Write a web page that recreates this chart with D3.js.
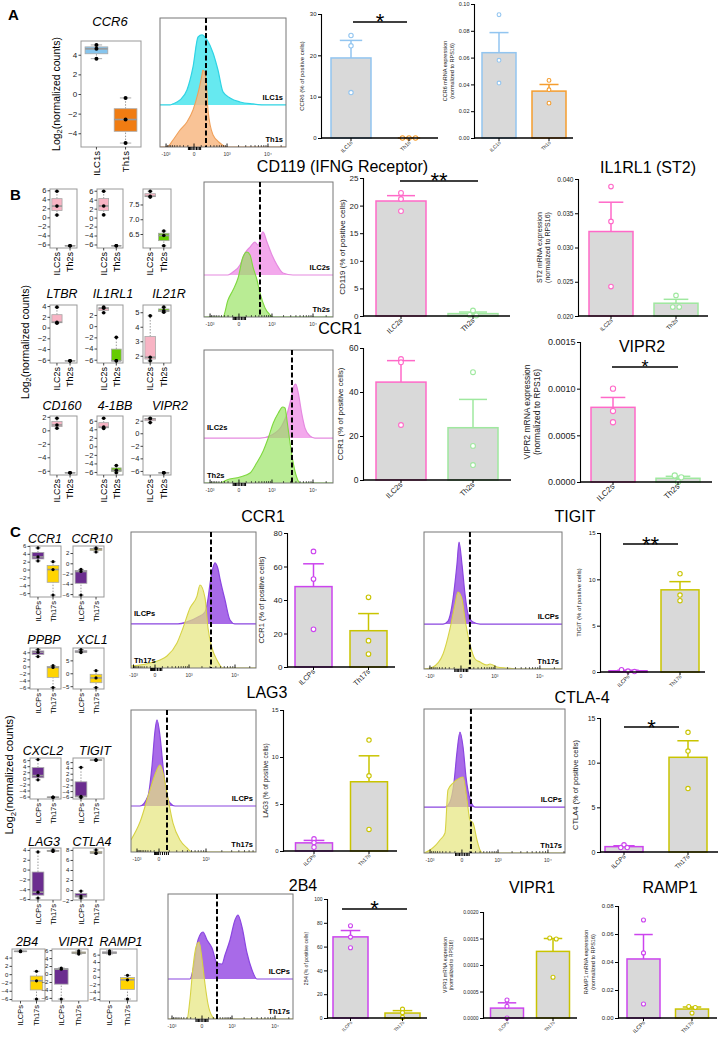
<!DOCTYPE html>
<html><head><meta charset="utf-8">
<script src="https://cdn.jsdelivr.net/npm/d3@7"></script>
<style>body{margin:0;background:#fff} svg{display:block}</style>
</head><body>
<svg id="fig" width="720" height="1040"></svg>
<script>
// ===================== DATA =====================
const groupsA = ["ILC1s", "Th1s"];
const groupsB = ["ILC2s", "Th2s"];
const groupsC = ["ILCPs", "Th17s"];

// RNA-seq, log2(normalized counts), 3 donors: [ILC group, Th group]
const rnaCCR6   = [[5.0, 4.6, 3.6], [-0.4, -2.6, -5.0]];
const rnaBr1c1  = [[5.8, 2.5, 0.5], [-6.3, -6.3, -6.3]];
const rnaBr1c2  = [[5.9, 2.6, 0.6], [-6.3, -6.3, -6.3]];
const rnaBr1c3  = [[7.95, 7.78, 7.75], [6.6, 6.45, 6.1]];
const rnaLTBR   = [[3.8, 1.0, 0.8], [-6.2, -6.2, -6.2]];
const rnaIL1RL1 = [[3.4, 3.2, 2.4], [-2.0, -6.2, -6.2]];
const rnaIL21R  = [[4.75, 1.9, 1.65], [5.35, 5.1, 5.0]];
const rnaCD160  = [[1.8, 0.8, 0.3], [-6.3, -6.3, -6.3]];
const rna41BB   = [[6.6, 4.5, 4.2], [-4.5, -5.6, -6.2]];
const rnaVIPR2  = [[2.4, 2.3, 1.7], [-6.3, -6.3, -6.3]];
const rnaCCR1   = [[5.5, 3.2, 2.2], [2.0, 0.0, -6.5]];
const rnaCCR10  = [[-1.2, -1.6, -6.2], [3.0, 2.8, 2.2]];
const rnaPPBP   = [[4.8, 4.0, 2.8], [0.2, -0.3, -6.0]];
const rnaXCL1   = [[9.2, 8.3, 8.0], [1.0, -1.8, -5.5]];
const rnaCXCL2  = [[6.2, 0.9, -0.5], [-6.2, -6.2, -6.3]];
const rnaTIGIT  = [[4.2, -5.8, -6.2], [6.9, 6.7, 6.6]];
const rnaLAG3   = [[3.6, -4.6, -5.8], [4.0, 3.8, 3.7]];
const rnaCTLA4  = [[-0.2, -1.2, -1.6], [8.0, 7.4, 7.3]];
const rna2B4    = [[5.6, 5.5, 5.4], [0.7, -1.6, -6.0]];
const rnaVIPR1  = [[1.5, 1.2, -6.3], [5.8, 5.3, 5.0]];
const rnaRAMP1  = [[7.0, 6.5, 6.2], [0.4, -0.8, -6.0]];

// boxplot tick labels
const tA   = [-4, -2, 0, 2, 4];
const t6   = [-6, -4, -2, 0, 2, 4, 6];
const t4   = [-6, -4, -2, 0, 2, 4];
const t2   = [-6, -4, -2, 0, 2];
const tB3  = [6.5, 7.0, 7.5];
const t21R = [2, 3, 4, 5];
const tXCL = [-5, 0, 5];
const tCTL = [-2, 0, 2, 4, 6, 8];

// Flow / qPCR bar values (3 donors): [ILC group, Th group]
const pctCCR6   = [[24.8, 22.3, 11.0], [0, 0, 0]];
const mrnaCCR6  = [[0.092, 0.058, 0.041], [0.043, 0.036, 0.026]];
const pctCD119  = [[22.3, 21.2, 19.0], [1.0, 0.2, 0.1]];
const pctCCR1B  = [[55, 53.5, 25], [49, 15.5, 6.8]];
const mrnaST2   = [[0.0389, 0.0338, 0.0243], [0.0230, 0.0213, 0.0213]];
const mrnaVIPR2 = [[0.00100, 0.00076, 0.00064], [0.00007, 0.00005, 0.0]];
const pctCCR1C  = [[69, 52.5, 22.5], [41.6, 15.7, 7.7]];
const pctTIGIT  = [[0.25, 0.1, 0.05], [10.6, 8.3, 7.7]];
const pctLAG3   = [[1.3, 0.9, 0.4], [11.8, 8.0, 2.3]];
const pctCTLA4  = [[0.8, 0.5, 0.5], [13.4, 11.3, 7.1]];
const pct2B4    = [[77.5, 68, 59], [7.5, 4.5, 0.5]];
const mrnaVIPR1 = [[0.00034, 0.00022, 0.0], [0.00151, 0.00149, 0.00077]];
const mrnaRAMP1 = [[0.070, 0.0465, 0.010], [0.0082, 0.0075, 0.0035]];

// bar axis ticks
const tk30   = [0, 10, 20, 30];
const tkA2   = [0, 0.02, 0.04, 0.06, 0.08, 0.10];
const tk25   = [0, 5, 10, 15, 20, 25];
const tk60   = [0, 20, 40, 60];
const tkST2  = [0.020, 0.025, 0.030, 0.035, 0.040];
const tkVIP2 = [0, 0.0005, 0.0010, 0.0015];
const tk80   = [0, 20, 40, 60, 80];
const tk15   = [0, 5, 10, 15];
const tk100  = [0, 20, 40, 60, 80, 100];
const tkVIP1 = [0, 0.0005, 0.0010, 0.0015, 0.0020];
const tkRAMP = [0, 0.02, 0.04, 0.06, 0.08];

// significance levels (value units)
const sigCCR6 = 28.06, sigCD119 = 24.46, sigVIPR2 = 0.001232, sigTIGIT = 13.81, sigCTLA4 = 13.99, sig2B4 = 91.6;

// Flow histograms: [display channel 0-100, relative count %]
const histA_ILC  = [[0,0],[7.9,0],[10.3,0.8],[15.9,3.9],[21.4,11.6],[26.2,29.5],[30.2,52.7],[33.3,54.3],[37.3,50.4],[42.1,40.3],[46,27.1],[50,10.1],[55.6,5.4],[63.5,2.3],[73.8,0.8],[84.9,0],[100,0]];
const histA_Th   = [[0,0],[5.6,0],[10.3,5.4],[15.9,13.2],[21.4,19.4],[26.2,28.7],[30.2,41.9],[33.3,55.8],[34.1,59.7],[36.5,53.5],[38.1,28.7],[42.1,9.3],[47.6,3.1],[53.2,0],[100,0]];
const histB1_ILC = [[0,0],[18.6,0],[22.5,2.2],[27.9,7.4],[31.8,16.3],[35.7,20.7],[39.5,24.4],[41.9,22.2],[45,31.1],[45.7,31.9],[48.8,24.4],[52.7,14.8],[56.6,7.4],[61.2,1.5],[69,0],[100,0]];
const histB1_Th  = [[0,0],[14.7,0],[18.6,12.6],[22.5,20],[26.4,28.9],[30.2,44.4],[33.3,48.1],[35.7,45.9],[38,37],[41.1,27.4],[43.4,17.8],[47.3,6.7],[51.2,1.5],[53.5,0],[100,0]];
const histB2_ILC = [[0,0],[43.4,0],[52.5,2.3],[60.2,9],[64.6,18.8],[67.2,28.6],[69.2,37.6],[71.1,40.6],[73.1,33.8],[75.7,18.8],[78.3,7.5],[82.2,1.5],[86,0],[100,0]];
const histB2_Th  = [[0,0],[12.4,0],[17.6,2.3],[27.9,4.5],[35.7,7.5],[40.8,15],[45.9,24.1],[49.8,33.8],[53.7,45.1],[57.6,52.6],[61,57.1],[62.8,56.4],[64.6,45.1],[66.7,30.1],[69.2,15],[71.8,4.5],[74.4,0],[100,0]];
const histC1_ILC = [[0,0],[37.6,0],[44.8,1.5],[53.6,5.1],[59.2,8.8],[61.6,18.4],[63.2,29.4],[64.8,38.2],[67.2,44.9],[69.6,40.4],[71.2,33.1],[75.2,17.6],[79.2,2.9],[83.2,0],[100,0]];
const histC1_Th  = [[0,1.5],[7.2,2.2],[15.2,3.7],[23.2,5.9],[28.8,8.8],[36.8,18.4],[41.6,29.4],[47.2,44.1],[52.8,52.9],[55.2,61],[59.2,51.5],[61.6,29.4],[64.8,14.7],[68.8,5.9],[73.6,0],[100,0]];
const histC2_ILC = [[0,0],[13.8,0],[17.4,2.2],[21,18.2],[23.9,43.8],[25.4,59.9],[27.5,43.8],[29.7,21.9],[31.9,7.3],[35.5,1.5],[40.6,0],[100,0]];
const histC2_Th  = [[0,0],[6.5,1.5],[13.8,10.9],[18.8,29.2],[22.5,47.4],[24.6,56.2],[27.5,51.1],[29.7,36.5],[33.3,18.2],[37,7.3],[40.6,5.1],[45.7,2.9],[47.8,3.6],[52.9,1.5],[60.1,0.7],[67.4,0],[100,0]];
const histC3_ILC = [[0,0],[7.2,0],[13.6,7],[16.8,28.2],[19.2,52.8],[20.8,60.6],[23.2,49.3],[25.6,28.2],[28,10.6],[31.2,2.1],[35.2,0],[100,0]];
const histC3_Th  = [[0,8.5],[7.2,21.1],[15.2,43.7],[20,56.3],[23.2,61.3],[26.4,52.8],[28.8,41.5],[33.6,20.4],[39.2,8.5],[44.8,2.8],[48.8,0],[100,0]];
const histC4_ILC = [[0,0],[14.9,0],[18.4,3.5],[21.3,17.4],[23.4,38.2],[25.5,52.1],[27.7,41.7],[29.8,20.8],[32.6,5.6],[36.2,0],[100,0]];
const histC4_Th  = [[0,0],[4.3,2.1],[8.5,5.6],[11.3,9],[14.9,13.9],[17,43.8],[20.6,48.6],[25.5,52.1],[27.7,52.8],[30.5,36.8],[32.6,22.9],[34.8,20.8],[37.6,9],[39.7,2.1],[41.8,0],[100,0]];
const histC5_ILC = [[0,0],[17.6,0],[20,7.2],[24,31.2],[28,37.6],[31.2,31.2],[35.2,24.8],[39.2,12.8],[43.2,12],[45.6,19.2],[49.6,31.2],[53.6,47.2],[56,51.2],[59.2,41.6],[63.2,20.8],[67.2,7.2],[71.2,0],[100,0]];
const histC5_Th  = [[0,0],[15.2,0],[17.6,16],[20,41.6],[22.4,57.6],[24.8,61.6],[27.2,48],[29.6,28],[32,12],[35.2,2.4],[38.4,0],[100,0]];

// flow axis tick values & labels
const flowMajor = [-1000, 0, 1000, 10000];
const flowMajorText = ["-10\u00B3", "0", "10\u00B3", "10\u2074"];
const flowMinor = [-900,-800,-700,-600,-500,-400,-300,-200,-100,100,200,300,400,500,600,700,800,900,
  2000,3000,4000,5000,6000,7000,8000,9000,20000,30000,40000,50000,60000,70000,80000,90000,100000,200000];
const flowNearZero = [-90,-70,-50,-30,-10,10,30,50,70,90];

// ===================== DRAWING =====================
const svg = d3.select("#fig");
const FONT = "'Liberation Sans', Arial, Helvetica, sans-serif";
let clipN = 0;

function txt(g, x, y, s, size, o = {}) {
  const t = g.append("text").attr("x", x).attr("y", y).attr("font-size", size)
    .attr("font-family", FONT).attr("fill", o.fill || "#000")
    .attr("text-anchor", o.anchor || "middle").text(s);
  if (o.italic) t.attr("font-style", "italic");
  if (o.bold) t.attr("font-weight", "bold");
  if (o.rotate != null) t.attr("transform", `rotate(${o.rotate},${x},${y})`);
  return t;
}

function fivenum(v) {
  const s = v.slice().sort(d3.ascending), n = s.length;
  const n4 = Math.floor((n + 3) / 2) / 2;
  const d = [1, n4, (n + 1) / 2, n + 1 - n4, n];
  return d.map(k => 0.5 * (s[Math.floor(k) - 1] + s[Math.ceil(k) - 1]));
}

function boxplot(o) {
  const g = svg.append("g");
  const [mn, mx] = d3.extent(o.data.flat());
  const pad = (mx - mn) * 0.04;
  const y = d3.scaleLinear().domain([mn - pad, mx + pad]).range([o.y1, o.y0]);
  const x = d3.scaleBand().domain(o.groups).range([o.x0, o.x1]).paddingInner(0.22).paddingOuter(0.14);
  g.append("rect").attr("x", o.x0).attr("y", o.y0).attr("width", o.x1 - o.x0).attr("height", o.y1 - o.y0)
    .attr("fill", "#fff").attr("stroke", "#999").attr("stroke-width", 1);
  const axg = g.append("g").attr("transform", `translate(${o.x0},0)`)
    .call(d3.axisLeft(y).tickValues(o.ticks).tickSize(2.5).tickPadding(1.2).tickFormat(o.fmt || d3.format("d")));
  axg.select(".domain").remove();
  axg.selectAll("line").attr("stroke", "#444");
  axg.selectAll("text").attr("font-size", o.tf).attr("font-family", FONT).attr("fill", "#222");
  o.groups.forEach((grp, i) => {
    const bw = x.bandwidth(), cx = x(grp) + bw / 2;
    const f = fivenum(o.data[i]);
    g.append("line").attr("x1", cx).attr("x2", cx).attr("y1", o.y1).attr("y2", o.y1 + 2.5).attr("stroke", "#444");
    g.append("text").attr("transform", `translate(${cx + o.lf * 0.36},${o.y1 + 4}) rotate(-90)`)
      .attr("text-anchor", "end").attr("font-size", o.lf).attr("font-family", FONT).text(grp);
    [[f[0], f[1]], [f[3], f[4]]].forEach(([a, b]) => {
      g.append("line").attr("x1", cx).attr("x2", cx).attr("y1", y(a)).attr("y2", y(b))
        .attr("stroke", "#999").attr("stroke-dasharray", "1.5,1.5");
    });
    [f[0], f[4]].forEach(v => g.append("line").attr("x1", cx - bw * 0.25).attr("x2", cx + bw * 0.25)
      .attr("y1", y(v)).attr("y2", y(v)).attr("stroke", "#aaa"));
    g.append("rect").attr("x", x(grp)).attr("width", bw).attr("y", y(f[3]))
      .attr("height", Math.max(0.01, y(f[1]) - y(f[3]))).attr("fill", o.colors[i]).attr("stroke", "#a8a8a8").attr("stroke-width", 0.8);
    g.append("line").attr("x1", x(grp)).attr("x2", x(grp) + bw).attr("y1", y(f[2])).attr("y2", y(f[2]))
      .attr("stroke", "#999").attr("stroke-width", 1.6);
    o.data[i].forEach(v => g.append("circle").attr("cx", cx).attr("cy", y(v)).attr("r", o.pr || 1.8).attr("fill", "#000"));
  });
  if (o.title) txt(g, o.tx, o.ty, o.title, o.ts, { italic: true });
}

function flowHist(o) {
  const g = svg.append("g");
  const xs = d3.scaleLinear().domain([0, 100]).range([o.x0, o.x1]);
  const ys = d3.scaleLinear().domain([0, 100]).range([o.y1, o.y0]);
  const id = "clip" + (clipN++);
  g.append("clipPath").attr("id", id).append("rect").attr("x", o.x0).attr("y", o.y0)
    .attr("width", o.x1 - o.x0).attr("height", o.y1 - o.y0);
  const inner = g.append("g").attr("clip-path", `url(#${id})`);
  const curve = d3.curveMonotoneX;
  const base = ys(o.offset);
  const areaT = d3.area().x(d => xs(d[0])).y0(base).y1(d => ys(o.offset + d[1])).curve(curve);
  const lineT = d3.line().x(d => xs(d[0])).y(d => ys(o.offset + d[1])).curve(curve);
  const areaB = d3.area().x(d => xs(d[0])).y0(o.y1).y1(d => ys(d[1])).curve(curve);
  const lineB = d3.line().x(d => xs(d[0])).y(d => ys(d[1])).curve(curve);
  inner.append("path").datum(o.top).attr("d", areaT).attr("fill", o.c[0]);
  inner.append("path").datum(o.top).attr("d", lineT).attr("fill", "none").attr("stroke", o.c[1]).attr("stroke-width", 1.2);
  inner.append("path").datum(o.bottom).attr("d", areaB).attr("fill", o.c[2]).attr("fill-opacity", o.op);
  inner.append("path").datum(o.bottom).attr("d", lineB).attr("fill", "none").attr("stroke", o.c[3]).attr("stroke-width", 1.1);
  g.append("rect").attr("x", o.x0).attr("y", o.y0).attr("width", o.x1 - o.x0).attr("height", o.y1 - o.y0)
    .attr("fill", "none").attr("stroke", "#777").attr("stroke-width", 1);
  // axis (biexponential-like display)
  const fx = d3.scaleSymlog().constant(220).domain(flowMajor).range(o.tickCh.map(c => xs(c)));
  const inside = v => fx(v) >= o.x0 + 0.5 && fx(v) <= o.x1 - 0.5;
  flowMinor.filter(inside).forEach(v => g.append("line").attr("x1", fx(v)).attr("x2", fx(v))
    .attr("y1", o.y1).attr("y2", o.y1 - 2).attr("stroke", "#222").attr("stroke-width", 0.7));
  flowNearZero.filter(inside).forEach(v => g.append("line").attr("x1", fx(v)).attr("x2", fx(v))
    .attr("y1", o.y1).attr("y2", o.y1 + 3).attr("stroke", "#000").attr("stroke-width", 1));
  flowMajor.forEach((v, i) => {
    if (!inside(v)) return;
    g.append("line").attr("x1", fx(v)).attr("x2", fx(v)).attr("y1", o.y1).attr("y2", o.y1 - 3.5)
      .attr("stroke", "#000").attr("stroke-width", 0.9);
    txt(g, fx(v), o.y1 + 9, flowMajorText[i], 5, { fill: "#333" });
  });
  // dashed threshold
  g.append("line").attr("x1", xs(o.cut)).attr("x2", xs(o.cut)).attr("y1", o.y0).attr("y2", o.y1)
    .attr("stroke", "#000").attr("stroke-width", 2).attr("stroke-dasharray", "5,2.5");
  const lx = o.side === "left" ? o.x0 + 3 : o.x1 - 3;
  const an = o.side === "left" ? "start" : "end";
  txt(g, lx, base - (o.side === "left" ? 8 : 5), o.labels[0], 7.5, { bold: true, anchor: an });
  txt(g, lx, o.y1 - 5, o.labels[1], 7.5, { bold: true, anchor: an });
}

function barChart(o) {
  const g = svg.append("g");
  const y = d3.scaleLinear().domain(o.dom).range([o.y0, o.yTop]);
  const x = d3.scalePoint().domain(o.groups).range(o.cx);
  o.data.forEach((pts, i) => {
    const grp = o.groups[i], cx = x(grp), col = o.colors[i];
    const m = d3.mean(pts), se = (d3.deviation(pts) || 0) / Math.sqrt(pts.length);
    g.append("rect").attr("x", cx - o.bw / 2).attr("y", y(m)).attr("width", o.bw)
      .attr("height", Math.max(0, y(o.dom[0]) - y(m))).attr("fill", "#d9d9d9").attr("stroke", col).attr("stroke-width", 1.5);
    g.append("line").attr("x1", cx).attr("x2", cx).attr("y1", y(m)).attr("y2", y(m + se)).attr("stroke", col).attr("stroke-width", 1.5);
    g.append("line").attr("x1", cx - o.bw * 0.28).attr("x2", cx + o.bw * 0.28).attr("y1", y(m + se)).attr("y2", y(m + se))
      .attr("stroke", col).attr("stroke-width", 1.5);
    // points with simple dodge of overlapping values
    const py = pts.map(v => y(v));
    const ord = d3.range(pts.length).sort((a, b) => py[a] - py[b]);
    const clusters = []; let cur = [ord[0]];
    for (let k = 1; k < ord.length; k++) {
      if (py[ord[k]] - py[cur[cur.length - 1]] < 2.6) cur.push(ord[k]); else { clusters.push(cur); cur = [ord[k]]; }
    }
    clusters.push(cur);
    const off = new Array(pts.length).fill(0);
    clusters.forEach(cl => cl.forEach((idx, j) => off[idx] = (j - (cl.length - 1) / 2) * (o.dodge || 6.5)));
    pts.forEach((v, k) => g.append("circle").attr("cx", cx + off[k]).attr("cy", py[k]).attr("r", o.pr || 2.2)
      .attr("fill", "#fff").attr("stroke", col).attr("stroke-width", 1.1));
    g.append("line").attr("x1", cx).attr("x2", cx).attr("y1", o.y0).attr("y2", o.y0 + 3).attr("stroke", "#000");
    g.append("text").attr("transform", `translate(${cx + 2},${o.y0 + 5}) rotate(-45)`).attr("text-anchor", "end")
      .attr("font-size", o.tf * 0.9).attr("font-family", FONT).attr("fill", "#222").text(grp);
  });
  const axg = g.append("g").attr("transform", `translate(${o.ax},0)`)
    .call(d3.axisLeft(y).tickValues(o.ticks).tickSize(3).tickPadding(1.5).tickFormat(o.fmt || d3.format("d")));
  axg.select(".domain").attr("stroke", "#000").attr("stroke-width", 1.1);
  axg.selectAll("line").attr("stroke", "#000");
  axg.selectAll("text").attr("font-size", o.tf).attr("font-family", FONT).attr("fill", "#222");
  g.append("line").attr("x1", o.ax).attr("x2", o.xEnd).attr("y1", o.y0).attr("y2", o.y0).attr("stroke", "#000").attr("stroke-width", 1.3);
  const ym = (o.yTop + o.y0) / 2;
  o.ylab.forEach((s, k) => txt(g, o.ax - o.labOff[k], ym, s, o.lf, { rotate: -90, fill: "#222" }));
  if (o.sig) {
    const sy = y(o.sig.v);
    g.append("line").attr("x1", o.sig.x[0]).attr("x2", o.sig.x[1]).attr("y1", sy).attr("y2", sy).attr("stroke", "#000").attr("stroke-width", 1.4);
    const fs = o.sig.fs || 22;
    txt(g, (o.sig.x[0] + o.sig.x[1]) / 2, sy + fs * 0.34, o.sig.text, fs);
  }
}

function log2Label(cx, cy, size) {
  const t = svg.append("text").attr("transform", `translate(${cx + size * 0.35},${cy}) rotate(-90)`)
    .attr("text-anchor", "middle").attr("font-size", size).attr("font-family", FONT);
  t.append("tspan").text("Log");
  t.append("tspan").attr("font-size", size * 0.7).attr("dy", size * 0.25).text("2");
  t.append("tspan").attr("dy", -size * 0.25).text("(normalized counts)");
}

// colours
const boxColA = ["#86c5ee", "#f07c12"], boxColB = ["#f8b4c4", "#66cc00"], boxColC = ["#6b2d8f", "#ffd400"];
const barColA = ["#92c5f0", "#f59d2e"], barColB = ["#ff69c8", "#9fe89f"], barColC = ["#cc44ee", "#c9c400"];
const histColA = ["#66e9f0", "#2fd3e4", "#f8b884", "#f0a05a"];
const histColB = ["#f3a8ec", "#e58ae0", "#93e25a", "#7ed83e"];
const histColC = ["#a86ae8", "#8a46e0", "#e6e57c", "#d6d244"];

// ---------- Panel letters ----------
txt(svg, 8, 20, "A", 15, { bold: true, anchor: "start" });
txt(svg, 10, 200, "B", 15, { bold: true, anchor: "start" });
txt(svg, 10, 537, "C", 15, { bold: true, anchor: "start" });

// ---------- Panel A ----------
log2Label(56, 94, 10.5);
boxplot({ x0: 81, y0: 41, x1: 141, y1: 147, data: rnaCCR6, groups: groupsA, colors: boxColA, ticks: tA, tf: 8, lf: 9.5, title: "CCR6", tx: 110, ty: 26, ts: 13, pr: 2 });
flowHist({ x0: 160, x1: 286, y0: 18, y1: 147, offset: 32.6, top: histA_ILC, bottom: histA_Th, cut: 36.5,
  tickCh: [4.8, 27, 53.2, 85.7], labels: groupsA, side: "right", c: histColA, op: 0.85 });
barChart({ ax: 321, xEnd: 438, yTop: 14, y0: 138, dom: [0, 30], ticks: tk30, cx: [351, 409], bw: 40, groups: groupsA,
  data: pctCCR6, colors: barColA, tf: 6, lf: 6, labOff: [17], ylab: ["CCR6 (% of positive cells)"],
  sig: { v: sigCCR6, x: [353, 407], text: "*" } });
barChart({ ax: 474, xEnd: 573, yTop: 4, y0: 138, dom: [0, 0.10], ticks: tkA2, fmt: d3.format(".2f"), cx: [499, 549], bw: 34,
  groups: groupsA, data: mrnaCCR6, colors: barColA, tf: 5.5, lf: 5.5, labOff: [27, 20],
  ylab: ["CCR6 mRNA expression", "(normalized to RPS16)"], pr: 1.9 });

// ---------- Panel B ----------
log2Label(25, 342, 10.5);
const bCols = [[50, 77], [97, 123], [143, 171]];
const bRows = [[189, 248], [305, 363], [416, 475]];
const bSpecs = [
  [rnaBr1c1, t6, null, null], [rnaBr1c2, t6, null, null], [rnaBr1c3, tB3, null, null, d3.format(".1f")],
  [rnaLTBR, t4, "LTBR", 62], [rnaIL1RL1, t2, "IL1RL1", 113], [rnaIL21R, t21R, "IL21R", 169],
  [rnaCD160, t2, "CD160", 62], [rna41BB, t6, "4-1BB", 115], [rnaVIPR2, t2, "VIPR2", 170]
];
const bTitleY = [0, 298, 410];
bSpecs.forEach((s, k) => {
  const r = Math.floor(k / 3), c = k % 3;
  boxplot({ x0: bCols[c][0], x1: bCols[c][1], y0: bRows[r][0], y1: bRows[r][1], data: s[0], groups: groupsB,
    colors: boxColB, ticks: s[1], fmt: s[4], tf: 7.5, lf: 9, title: s[2], tx: s[3], ty: bTitleY[r], ts: 12.5 });
});
txt(svg, 342.5, 172, "CD119 (IFNG Receptor)", 16);
txt(svg, 648, 173, "IL1RL1 (ST2)", 16);
txt(svg, 340, 334, "CCR1", 16);
txt(svg, 642, 352, "VIPR2", 16);
flowHist({ x0: 204, x1: 333, y0: 182, y1: 317, offset: 31.1, top: histB1_ILC, bottom: histB1_Th, cut: 43.4,
  tickCh: [4.7, 27.1, 52.7, 84.5], labels: groupsB, side: "right", c: histColB, op: 0.65 });
flowHist({ x0: 204, x1: 333, y0: 350, y1: 483, offset: 33.8, top: histB2_ILC, bottom: histB2_Th, cut: 68.2,
  tickCh: [4.7, 27.1, 52.7, 84.5], labels: groupsB, side: "left", c: histColB, op: 0.65 });
barChart({ ax: 363, xEnd: 510, yTop: 178, y0: 316, dom: [0, 25], ticks: tk25, cx: [401, 473], bw: 50, groups: groupsB,
  data: pctCD119, colors: barColB, tf: 8, lf: 8, labOff: [18], ylab: ["CD119 (% of positive cells)"],
  sig: { v: sigCD119, x: [400, 478], text: "**" }, pr: 2.4 });
barChart({ ax: 363, xEnd: 511, yTop: 348, y0: 480, dom: [0, 60], ticks: tk60, cx: [401, 473], bw: 50, groups: groupsB,
  data: pctCCR1B, colors: barColB, tf: 8.5, lf: 8, labOff: [20], ylab: ["CCR1 (% of positive cells)"], pr: 2.4 });
barChart({ ax: 578, xEnd: 708, yTop: 179, y0: 316, dom: [0.02, 0.04], ticks: tkST2, fmt: d3.format(".3f"), cx: [611, 676], bw: 44,
  groups: groupsB, data: mrnaST2, colors: barColB, tf: 6.5, lf: 7, labOff: [36, 28],
  ylab: ["ST2 mRNA expression", "(normalized to RPS16)"], pr: 2.3 });
barChart({ ax: 580, xEnd: 712, yTop: 342, y0: 482, dom: [0, 0.0015], ticks: tkVIP2, fmt: d3.format(".4f"), cx: [613, 678], bw: 44,
  groups: groupsB, data: mrnaVIPR2, colors: barColB, tf: 9, lf: 8.5, labOff: [50, 40],
  ylab: ["VIPR2 mRNA expression", "(normalized to RPS16)"], sig: { v: sigVIPR2, x: [612, 678], text: "*", fs: 18 }, pr: 2.6 });

// ---------- Panel C ----------
log2Label(9, 775, 11);
const cSpecs = [
  [rnaCCR1, t6, "CCR1", 45, 0, 0], [rnaCCR10, t2, "CCR10", 92, 0, 1],
  [rnaPPBP, t4, "PPBP", 44, 1, 0], [rnaXCL1, tXCL, "XCL1", 92, 1, 1],
  [rnaCXCL2, t6, "CXCL2", 43, 2, 0], [rnaTIGIT, t6, "TIGIT", 95, 2, 1],
  [rnaLAG3, t4, "LAG3", 44, 3, 0], [rnaCTLA4, tCTL, "CTLA4", 92, 3, 1],
  [rna2B4, t4, "2B4", 27, 4, 0], [rnaVIPR1, t6, "VIPR1", 76, 4, 1], [rnaRAMP1, t6, "RAMP1", 121, 4, 2]
];
const cRows = [[546, 597, 543], [648, 689, 644], [758, 799, 755], [848, 900, 846], [949, 1001, 946]];
const cCols4 = [[30, 61], [73, 104]], cCols5 = [[12, 45], [52, 88], [100, 137]];
cSpecs.forEach(s => {
  const r = cRows[s[4]], c = (s[4] === 4 ? cCols5 : cCols4)[s[5]];
  boxplot({ x0: c[0], x1: c[1], y0: r[0], y1: r[1], data: s[0], groups: groupsC, colors: boxColC, ticks: s[1],
    tf: 6, lf: 7.5, title: s[2], tx: s[3], ty: r[2], ts: 12.5, pr: 1.6 });
});
txt(svg, 263, 522, "CCR1", 16);
txt(svg, 575, 522, "TIGIT", 16);
txt(svg, 267, 698, "LAG3", 16);
txt(svg, 582, 703, "CTLA-4", 16);
txt(svg, 303, 891, "2B4", 16);
txt(svg, 532, 893, "VIPR1", 16);
txt(svg, 670, 893, "RAMP1", 16);

flowHist({ x0: 131, x1: 256, y0: 532, y1: 668, offset: 32.4, top: histC1_ILC, bottom: histC1_Th, cut: 64,
  tickCh: [2, 19.2, 46.4, 83.2], labels: groupsC, side: "left", c: histColC, op: 0.7 });
flowHist({ x0: 424, x1: 562, y0: 532, y1: 669, offset: 32.8, top: histC2_ILC, bottom: histC2_Th, cut: 33.3,
  tickCh: [4.3, 26.8, 51.4, 84], labels: groupsC, side: "right", c: histColC, op: 0.7 });
flowHist({ x0: 131, x1: 256, y0: 710, y1: 852, offset: 32.4, top: histC3_ILC, bottom: histC3_Th, cut: 28.8,
  tickCh: [4.8, 22.4, 60, 105], labels: groupsC, side: "right", c: histColC, op: 0.7 });
flowHist({ x0: 424, x1: 565, y0: 709, y1: 853, offset: 31.9, top: histC4_ILC, bottom: histC4_Th, cut: 33.3,
  tickCh: [4.3, 26.9, 52.5, 87.9], labels: groupsC, side: "right", c: histColC, op: 0.7 });
flowHist({ x0: 168, x1: 293, y0: 894, y1: 1019, offset: 32, top: histC5_ILC, bottom: histC5_Th, cut: 39.2,
  tickCh: [3.2, 27.2, 51.2, 85.6], labels: groupsC, side: "right", c: histColC, op: 0.7 });

barChart({ ax: 287, xEnd: 395, yTop: 533, y0: 667, dom: [0, 80], ticks: tk80, cx: [313.5, 368.5], bw: 37, groups: groupsC,
  data: pctCCR1C, colors: barColC, tf: 8, lf: 7.5, labOff: [23], ylab: ["CCR1 (% of positive cells)"], pr: 2.3 });
barChart({ ax: 600, xEnd: 705, yTop: 533, y0: 672, dom: [0, 15], ticks: tk15, cx: [628, 680], bw: 38, groups: groupsC,
  data: pctTIGIT, colors: barColC, tf: 6, lf: 6, labOff: [19], ylab: ["TIGIT (% of positive cells)"],
  sig: { v: sigTIGIT, x: [623, 678], text: "**" } });
barChart({ ax: 283, xEnd: 397, yTop: 710, y0: 851, dom: [0, 15], ticks: tk15, cx: [314, 369], bw: 37, groups: groupsC,
  data: pctLAG3, colors: barColC, tf: 6, lf: 6.5, labOff: [15], ylab: ["LAG3 (% of positive cells)"] });
barChart({ ax: 600, xEnd: 718, yTop: 718, y0: 852, dom: [0, 15], ticks: tk15, cx: [624, 688], bw: 38, groups: groupsC,
  data: pctCTLA4, colors: barColC, tf: 7, lf: 7.5, labOff: [22], ylab: ["CTLA4 (% of positive cells)"],
  sig: { v: sigCTLA4, x: [624, 679], text: "*" } });
barChart({ ax: 327, xEnd: 427, yTop: 899, y0: 1018, dom: [0, 100], ticks: tk100, cx: [350.5, 402.5], bw: 35, groups: groupsC,
  data: pct2B4, colors: barColC, tf: 5, lf: 5, labOff: [19], ylab: ["2B4 (% of positive cells)"],
  sig: { v: sig2B4, x: [342, 407], text: "*" }, pr: 2 });
barChart({ ax: 483, xEnd: 577, yTop: 912, y0: 1018, dom: [0, 0.002], ticks: tkVIP1, fmt: d3.format(".4f"), cx: [507, 553], bw: 33,
  groups: groupsC, data: mrnaVIPR1, colors: barColC, tf: 5, lf: 5, labOff: [36, 30],
  ylab: ["VIPR1 mRNA expression", "(normalized to RPS16)"], pr: 2 });
barChart({ ax: 618, xEnd: 717, yTop: 906, y0: 1018, dom: [0, 0.08], ticks: tkRAMP, fmt: d3.format(".2f"), cx: [643.5, 692], bw: 33,
  groups: groupsC, data: mrnaRAMP1, colors: barColC, tf: 6, lf: 5.5, labOff: [30, 23],
  ylab: ["RAMP1 mRNA expression", "(normalized to RPS16)"], pr: 2 });
</script>
</body></html>
